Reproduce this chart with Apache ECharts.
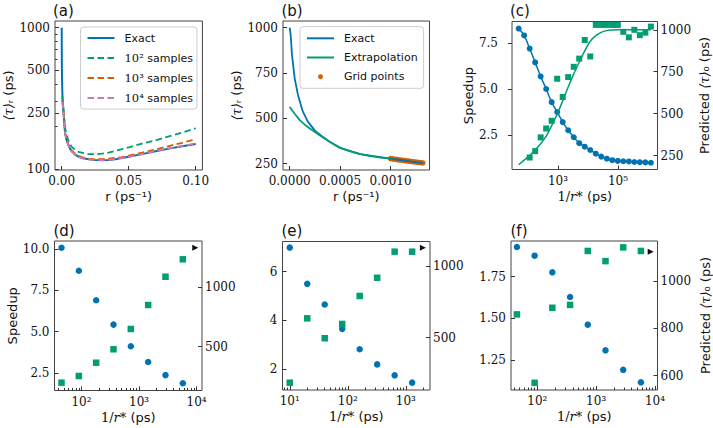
<!DOCTYPE html>
<html>
<head>
<meta charset="utf-8">
<script src="https://cdn.jsdelivr.net/npm/echarts@6/dist/echarts.min.js"></script>
<style>
html,body{margin:0;padding:0;background:#ffffff;}
#chart{width:713px;height:428px;}
</style>
</head>
<body>
<div id="chart"></div>
<script>
// ---------------- data ----------------
// Panel (a): <tau>_r versus r
const rExactA   = [0, 0.0001, 0.0002, 0.0004, 0.0007, 0.001, 0.0015, 0.0025, 0.00375, 0.005, 0.00625, 0.0075, 0.01, 0.0125, 0.015, 0.02, 0.025, 0.03, 0.035, 0.04, 0.045, 0.05, 0.06, 0.07, 0.08, 0.09, 0.1];
const tauExactA = [1000, 590, 467, 370, 302, 278, 240, 180, 160, 148, 140, 134, 127, 123, 120, 118, 116.5, 116, 116.5, 118, 120, 122.5, 128, 134, 140, 145.5, 151];
const rSampA    = [0.0005, 0.001, 0.0015, 0.0025, 0.00375, 0.005, 0.00625, 0.0075, 0.01, 0.0125, 0.015, 0.02, 0.025, 0.03, 0.035, 0.04, 0.045, 0.05, 0.06, 0.07, 0.08, 0.09, 0.1];
const tau1e2A   = [330, 285, 255, 196, 174, 160, 151, 144, 137, 133, 131, 128, 128, 129, 131, 135, 139, 143, 152, 160, 171, 182, 195];
const tau1e3A   = [305, 275, 245, 182, 162, 150, 141, 136, 129, 125, 122, 119, 118, 118, 119, 120.5, 122, 125, 131, 138, 146, 154, 163];
const tau1e4A   = [300, 272, 242, 180, 160, 148, 140, 134, 127, 123, 120, 118, 116.5, 116, 116.5, 118, 120, 122.5, 128, 134.5, 140.5, 146.5, 152];

// Panel (b): exact, extrapolation, grid points
const rExactB   = [0, 0.000005, 0.00001, 0.000023, 0.00005, 0.000083, 0.00013, 0.00018, 0.00025, 0.00032, 0.0004, 0.0005, 0.0007, 0.001, 0.00132];
const tauExactB = [1000, 1000, 960, 850, 720, 628, 538, 482, 432, 402, 369, 337, 302, 278, 253];
const rExtB     = [0, 0.00005, 0.0001, 0.00015, 0.0002, 0.00025, 0.0003, 0.0004, 0.0005, 0.0006, 0.0007, 0.0008, 0.0009, 0.001];
const tauExtB   = [563, 525, 490, 465, 444, 424, 405, 369, 337, 318, 302, 291, 283, 278];
const rGridB    = [0.001, 0.00102, 0.00104, 0.00106, 0.00108, 0.0011, 0.00112, 0.00114, 0.00116, 0.00118, 0.0012, 0.00122, 0.00124, 0.00126, 0.00128, 0.0013, 0.00132];
const tauGridB  = [278, 276.3, 274.7, 273.1, 271.5, 270, 268.4, 266.9, 265.4, 263.9, 262.4, 260.9, 259.4, 257.9, 256.5, 255.1, 253.7];

// Panel (c): speedup and predicted <tau>_0 versus 1/r*
const invRC     = [48.9, 74.6, 114, 174, 265, 405, 617, 942, 1440, 2190, 3350, 5110, 7800, 11900, 18200, 27700, 42300, 64600, 98500, 150000, 230000, 350000, 534000, 816000, 1245000];
const speedupC  = [8.28, 7.91, 7.20, 6.45, 5.69, 5.01, 4.30, 3.76, 3.22, 2.78, 2.40, 2.08, 1.89, 1.71, 1.51, 1.35, 1.24, 1.16, 1.12, 1.10, 1.09, 1.06, 1.05, 1.04, 1.02];
const predC     = [null, null, 238, 276, 358, 411, 457, 708, 599, 718, 779, 828, 939, 841, 1029, 1029, 1029, 1029, 1029, 988, 955, 1000, 968, 983, 1019];
const predFitC  = [195, 222, 250, 283, 320, 365, 428, 498, 576, 659, 737, 808, 874, 932, 965, 985, 995, 999, 1000, 1000, 1000, 1000, 1000, 1000, 1000];

// Panels (d), (e), (f)
const invRDF    = [45, 90, 180, 360, 720, 1440, 2880, 5760];
const invRE     = [10, 20, 40, 80, 160, 320, 640, 1280];
const speedupD  = [10.06, 8.67, 6.89, 5.42, 4.11, 3.16, 2.37, 1.88];
const predD     = [197, 253, 365, 478, 649, 851, 1089, 1236];
const speedupE  = [6.99, 5.50, 4.65, 3.65, 2.81, 2.19, 1.74, 1.44];
const predE     = [186, 635, 496, 596, 791, 918, 1100, 1100];
const speedupF  = [1.927, 1.875, 1.775, 1.627, 1.461, 1.307, 1.19, 1.115];
const predF     = [859, 570, 887, 899, 1127, 1084, 1142, 1127];
// exact <tau>_0 markers (triangles) for d, e, f
const exactMarkX = [9460, 1960, 8450];
const exactMarkY = [1333, 1128, 1124];

// tick values
const ticksAx = [0, 0.05, 0.1];
const ticksAy = [100, 250, 500, 1000];
const minorAy = [200, 300, 400, 600, 700, 800, 900];
const ticksBx = [0, 0.0005, 0.001];
const ticksBy = [250, 500, 750, 1000];
const ticksCx = [1e3, 1e5];
const ticksCl = [2.5, 5, 7.5];
const ticksCr = [250, 500, 750, 1000];
const ticksDx = [1e2, 1e3, 1e4];
const minorDx = [40, 50, 60, 70, 80, 90, 200, 300, 400, 500, 600, 700, 800, 900, 2000, 3000, 4000, 5000, 6000, 7000, 8000, 9000];
const ticksDl = [2.5, 5, 7.5, 10];
const ticksDr = [500, 1000];
const ticksEx = [10, 100, 1000];
const minorEx = [8, 9, 20, 30, 40, 50, 60, 70, 80, 90, 200, 300, 400, 500, 600, 700, 800, 900, 2000];
const ticksEl = [2, 4, 6];
const ticksEr = [500, 1000];
const ticksFx = [1e2, 1e3, 1e4];
const minorFx = [40, 50, 60, 70, 80, 90, 200, 300, 400, 500, 600, 700, 800, 900, 2000, 3000, 4000, 5000, 6000, 7000, 8000, 9000];
const ticksFl = [1.25, 1.5, 1.75];
const ticksFr = [600, 800, 1000];

// ---------------- styling ----------------
const BLUE = '#0173b2', GREEN = '#029e73', ORANGE = '#d55e00', PINK = '#cc78bc', BLACK = '#111111';
const SERIF = "'DejaVu Serif', serif";
const SANS = "'DejaVu Sans', sans-serif";
const INK = '#111111', TICK = '#333333', FRAME = '#444444';

function pairs(xs, ys) {
  const out = [];
  for (let i = 0; i < xs.length; i++) if (ys[i] != null) out.push([xs[i], ys[i]]);
  return out;
}
const SUPS = {'0':'⁰','1':'¹','2':'²','3':'³','4':'⁴','5':'⁵','6':'⁶'};
const pow10 = v => '10' + SUPS[String(Math.round(Math.log10(v)))];

const nameStyle = {
  fontFamily: SANS, fontSize: 13, color: INK,
  rich: {
    m: {fontFamily: SERIF, fontStyle: 'italic', fontSize: 13, color: INK},
    u: {fontFamily: SERIF, fontSize: 13, color: INK}
  }
};

function ax(o) {
  const a = {
    type: o.type || 'value', gridIndex: o.grid, min: o.min, max: o.max,
    splitLine: {show: false},
    axisLine: {show: false, onZero: false},
    axisTick: {show: true, inside: !o.out, length: o.len || 4, customValues: o.ticks, lineStyle: {color: TICK, width: 1}},
    axisLabel: o.noLabel ? {show: false} : {
      show: true, customValues: o.ticks, formatter: o.fmt,
      margin: o.margin == null ? 5 : o.margin,
      fontFamily: SERIF, fontSize: 12, color: INK
    }
  };
  if (o.type === 'log') a.logBase = 10;
  if (o.pos) a.position = o.pos;
  if (o.name) { a.name = o.name; a.nameLocation = 'middle'; a.nameGap = o.gap; a.nameTextStyle = nameStyle; }
  return a;
}

const grids = [
  {left: 55,    top: 21,    width: 147.4, height: 149},
  {left: 283,   top: 21,    width: 146.5, height: 149},
  {left: 512,   top: 21.5,  width: 145.5, height: 148},
  {left: 54.5,  top: 241,   width: 147.5, height: 149.5},
  {left: 282.5, top: 241.5, width: 147.5, height: 148.5},
  {left: 511,   top: 241,   width: 146.5, height: 149}
].map(g => Object.assign({show: true, borderColor: FRAME, borderWidth: 1, backgroundColor: 'transparent', containLabel: false}, g));

const NAME_R = 'r (ps⁻¹)';
const NAME_INV = '{u|1/}{m|r}{u|*} (ps)';
const NAME_TAU = '{m|⟨τ⟩}ᵣ (ps)';
const NAME_PRED = 'Predicted {m|⟨τ⟩}₀ (ps)';
const f1 = v => v.toFixed(1), f2 = v => v.toFixed(2), f4 = v => v.toFixed(4), fs = v => String(v);

const xAxis = [
  ax({grid: 0, min: -0.005, max: 0.105, ticks: ticksAx, fmt: f2, name: NAME_R, gap: 20}),
  ax({grid: 1, min: -0.000066, max: 0.001386, ticks: ticksBx, fmt: f4, name: NAME_R, gap: 20}),
  ax({grid: 2, type: 'log', min: 29.4, max: 2.07e6, ticks: ticksCx, fmt: pow10, name: NAME_INV, gap: 20}),
  ax({grid: 3, type: 'log', min: 34, max: 12400, ticks: ticksDx, fmt: pow10, name: NAME_INV, gap: 20}),
  ax({grid: 4, type: 'log', min: 7.5, max: 2600, ticks: ticksEx, fmt: pow10, name: NAME_INV, gap: 20}),
  ax({grid: 5, type: 'log', min: 35.7, max: 11020, ticks: ticksFx, fmt: pow10, name: NAME_INV, gap: 20}),
  ax({grid: 3, type: 'log', min: 34, max: 12400, ticks: minorDx, noLabel: true, len: 2.5}),
  ax({grid: 4, type: 'log', min: 7.5, max: 2600, ticks: minorEx, noLabel: true, len: 2.5}),
  ax({grid: 5, type: 'log', min: 35.7, max: 11020, ticks: minorFx, noLabel: true, len: 2.5})
];
xAxis.forEach(a => a.position = 'bottom');

const yAxis = [
  ax({grid: 0, type: 'log', min: 98.9, max: 1115, ticks: ticksAy, fmt: fs, name: NAME_TAU, gap: 40, pos: 'left'}),
  ax({grid: 1, min: 215, max: 1037, ticks: ticksBy, fmt: fs, name: NAME_TAU, gap: 40, pos: 'left'}),
  ax({grid: 2, min: 0.655, max: 8.663, ticks: ticksCl, fmt: f1, name: 'Speedup', gap: 33, pos: 'left', out: true, margin: 14}),
  ax({grid: 2, min: 166.5, max: 1049.5, ticks: ticksCr, fmt: fs, name: NAME_PRED, gap: 40, pos: 'right', margin: 3}),
  ax({grid: 3, min: 1.44, max: 10.47, ticks: ticksDl, fmt: f1, name: 'Speedup', gap: 35, pos: 'left'}),
  ax({grid: 3, min: 131, max: 1390, ticks: ticksDr, fmt: fs, pos: 'right', margin: 3}),
  ax({grid: 4, min: 1.137, max: 7.24, ticks: ticksEl, fmt: fs, pos: 'left'}),
  ax({grid: 4, min: 135, max: 1171, ticks: ticksEr, fmt: fs, pos: 'right', margin: 3}),
  ax({grid: 5, min: 1.069, max: 1.963, ticks: ticksFl, fmt: f2, pos: 'left'}),
  ax({grid: 5, min: 539.6, max: 1169, ticks: ticksFr, fmt: fs, name: NAME_PRED, gap: 41, pos: 'right', margin: 3}),
  ax({grid: 0, type: 'log', min: 98.9, max: 1115, ticks: minorAy, noLabel: true, len: 2.5, pos: 'left'})
];

function line(name, xi, yi, data, color, width, dash, extra) {
  return Object.assign({
    type: 'line', name: name, xAxisIndex: xi, yAxisIndex: yi, data: data,
    symbol: 'none', showSymbol: false, smooth: false, clip: true,
    lineStyle: {color: color, width: width, type: dash || 'solid'},
    itemStyle: {color: color}, emphasis: {disabled: true}, silent: true
  }, extra || {});
}
function dots(name, xi, yi, data, color, symbol, size, extra) {
  return Object.assign({
    type: 'scatter', name: name, xAxisIndex: xi, yAxisIndex: yi, data: data,
    symbol: symbol, symbolSize: size, itemStyle: {color: color, opacity: 1},
    emphasis: {disabled: true}, silent: true, clip: true
  }, extra || {});
}

const DASH = [6.5, 3.5];
const series = [
  // (a)
  line('Exact', 0, 0, pairs(rExactA, tauExactA), BLUE, 2),
  line('10² samples', 0, 0, pairs(rSampA, tau1e2A), GREEN, 1.8, DASH),
  line('10³ samples', 0, 0, pairs(rSampA, tau1e3A), ORANGE, 1.8, DASH),
  line('10⁴ samples', 0, 0, pairs(rSampA, tau1e4A), PINK, 1.8, DASH),
  // (b)
  line('Exact', 1, 1, pairs(rExactB, tauExactB), BLUE, 1.8),
  line('Extrapolation', 1, 1, pairs(rExtB, tauExtB), GREEN, 1.8),
  dots('Grid points', 1, 1, pairs(rGridB, tauGridB), ORANGE, 'circle', 5.5),
  // (c)
  line('fitSpeedupC', 2, 2, pairs(invRC, speedupC), BLUE, 1.5, null, {smooth: 0.3}),
  line('fitPredC', 2, 3, pairs(invRC, predFitC), GREEN, 1.5, null, {smooth: 0.3}),
  dots('speedupC', 2, 2, pairs(invRC, speedupC), BLUE, 'circle', 6),
  dots('predC', 2, 3, pairs(invRC, predC), GREEN, 'rect', 6),
  // (d)
  dots('speedupD', 3, 4, pairs(invRDF, speedupD), BLUE, 'circle', 6.5),
  dots('predD', 3, 5, pairs(invRDF, predD), GREEN, 'rect', 6.5),
  dots('exactD', 3, 5, [[exactMarkX[0], exactMarkY[0]]], BLACK, 'triangle', [6, 6], {symbolRotate: -90}),
  // (e)
  dots('speedupE', 4, 6, pairs(invRE, speedupE), BLUE, 'circle', 6.5),
  dots('predE', 4, 7, pairs(invRE, predE), GREEN, 'rect', 6.5),
  dots('exactE', 4, 7, [[exactMarkX[1], exactMarkY[1]]], BLACK, 'triangle', [6, 6], {symbolRotate: -90}),
  // (f)
  dots('speedupF', 5, 8, pairs(invRDF, speedupF), BLUE, 'circle', 6.5),
  dots('predF', 5, 9, pairs(invRDF, predF), GREEN, 'rect', 6.5),
  dots('exactF', 5, 9, [[exactMarkX[2], exactMarkY[2]]], BLACK, 'triangle', [6, 6], {symbolRotate: -90})
];

const legendText = {
  fontFamily: SANS, fontSize: 11, color: INK, lineHeight: 14, padding: [0, 0, 0, 5],
  rich: {n: {fontFamily: SERIF, fontSize: 11.5, color: INK, lineHeight: 14}}
};
const legendCommon = {
  orient: 'vertical', itemWidth: 27, itemHeight: 5, selectedMode: false,
  backgroundColor: 'rgba(255,255,255,0.85)', borderColor: '#cccccc', borderWidth: 1, borderRadius: 3,
  textStyle: legendText,
  formatter: name => name.replace(/^(10\S)/, '{n|$1}')
};
const lineItem = name => ({name: name, itemStyle: {opacity: 0}});
const legend = [
  Object.assign({}, legendCommon, {
    data: [lineItem('Exact'), lineItem('10² samples'), lineItem('10³ samples'), lineItem('10⁴ samples')],
    left: 80.5, top: 27, itemGap: 6, padding: [4, 4, 4, 6]
  }),
  Object.assign({}, legendCommon, {
    data: [lineItem('Exact'), lineItem('Extrapolation'), {name: 'Grid points'}],
    left: 300, top: 26.7, itemGap: 5.2, padding: [4.6, 6, 4.6, 6]
  })
];

const panelLabels = [['(a)', 53, 11], ['(b)', 281.5, 11], ['(c)', 510, 11], ['(d)', 53.5, 230.5], ['(e)', 281.5, 231], ['(f)', 510.5, 231]];
const graphic = panelLabels.map(p => ({
  type: 'text', x: p[1], y: p[2], silent: true,
  style: {text: p[0], fontFamily: SANS, fontSize: 15, fill: INK, align: 'left', verticalAlign: 'middle', textAlign: 'left', textVerticalAlign: 'middle'}
}));

const chart = echarts.init(document.getElementById('chart'), null, {renderer: 'svg', width: 713, height: 428});
chart.setOption({
  animation: false,
  backgroundColor: '#ffffff',
  grid: grids,
  xAxis: xAxis,
  yAxis: yAxis,
  legend: legend,
  graphic: graphic,
  series: series
});
</script>
</body>
</html>
